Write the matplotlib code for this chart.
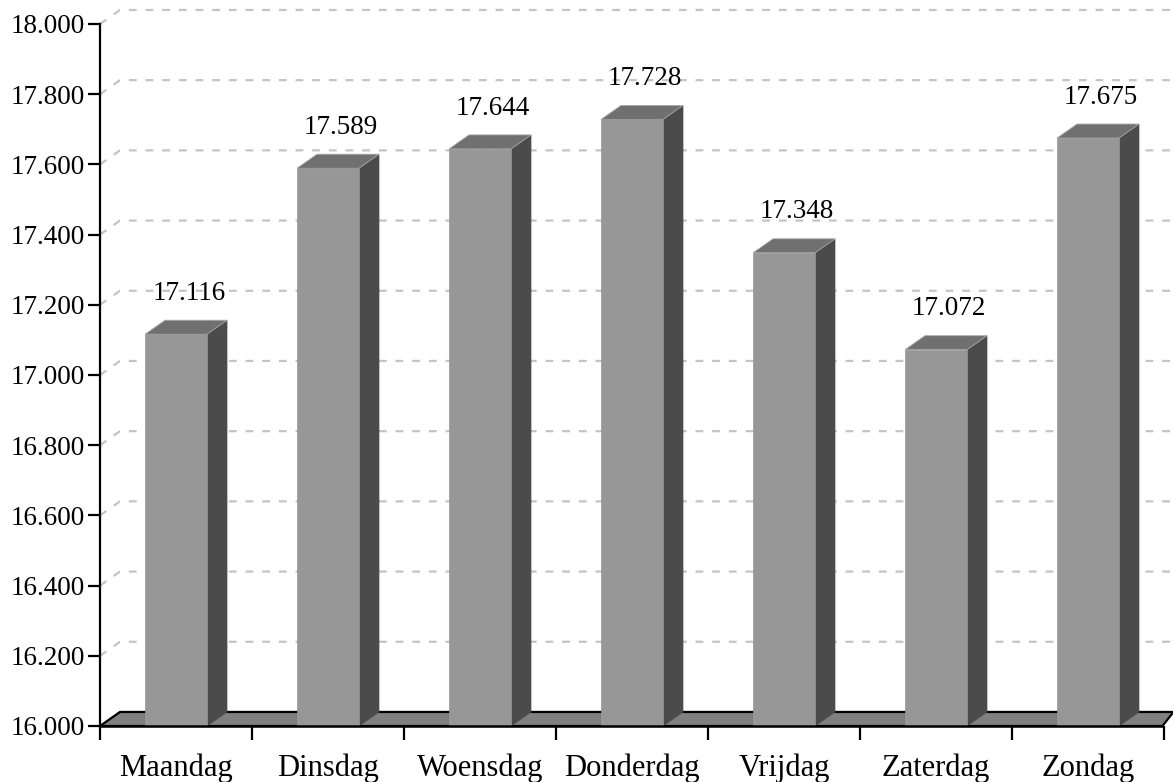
import matplotlib.pyplot as plt
import matplotlib.ticker as mticker
from matplotlib.patches import Polygon, Rectangle

# data
days = ['Maandag', 'Dinsdag', 'Woensdag', 'Donderdag', 'Vrijdag', 'Zaterdag', 'Zondag']
values = [17116, 17589, 17644, 17728, 17348, 17072, 17675]
yticks = list(range(16000, 18001, 200))

plt.rcParams['font.family'] = ['Liberation Serif', 'DejaVu Serif']

fig = plt.figure(figsize=(11.73, 7.82), dpi=100)
ax = fig.add_axes([100 / 1173, 56 / 782, 1064 / 1173, 702 / 782])
ax.set_xlim(0, len(days))
ax.set_ylim(16000, 18000)

# 3d depth offsets in data units (about 20px right, 14px up)
dx = 20 / 152
dy = 40
half = 31 / 152
n = len(days)

for s in ax.spines.values():
    s.set_visible(False)
ax.plot([0, 0], [16000, 18000], color='black', lw=1.6, clip_on=False, zorder=6)

# gridlines on the back wall
for t in yticks[1:]:
    ax.plot([0, dx, n + dx + 0.2], [t, t + dy, t + dy], color='#c4c4c4', lw=1.6,
            dashes=(3.5, 4), clip_on=False, zorder=1)

# floor
floor = Polygon([(0, 16000), (n - 0.01, 16000), (n - 0.01 + dx * 0.55, 16000 + dy), (dx, 16000 + dy)],
                closed=True, facecolor='#808080', edgecolor='black', lw=1.6,
                clip_on=False, zorder=2)
ax.add_patch(floor)

# bars
for i, v in enumerate(values):
    c = i + 0.5
    x0, x1 = c - half, c + half
    side = Polygon([(x1, 16000), (x1 + dx, 16000 + dy), (x1 + dx, v + dy), (x1, v)],
                   closed=True, facecolor='#4b4b4b', edgecolor='#4b4b4b', lw=0.5,
                   clip_on=False, zorder=3)
    top = Polygon([(x0, v), (x1, v), (x1 + dx, v + dy), (x0 + dx, v + dy)],
                  closed=True, facecolor='#707070', edgecolor='#a8a8a8', lw=0.6,
                  clip_on=False, zorder=3)
    front = Rectangle((x0, 16000), x1 - x0, v - 16000, facecolor='#979797',
                      edgecolor='#979797', lw=0.5, clip_on=False, zorder=4)
    ax.add_patch(side)
    ax.add_patch(top)
    ax.add_patch(front)
    label = f'{v / 1000:.3f}'
    ax.text(c + dx / 2 + 0.02, v + dy + 58, label, ha='center', va='baseline',
            fontsize=19.5, zorder=5)

ax.plot([0, n - 0.01], [16000, 16000], color='black', lw=1.8, clip_on=False, zorder=6)

ax.set_yticks(yticks)
ax.yaxis.set_major_formatter(mticker.FuncFormatter(lambda y, p: f'{y / 1000:.3f}'))
ax.tick_params(axis='y', length=9, width=1.6, labelsize=19.5, pad=2)

ax.set_xticks([i for i in range(n + 1)])
ax.set_xticks([i + 0.5 for i in range(n)], minor=True)
ax.set_xticklabels([])
ax.set_xticklabels(days, minor=True)
ax.tick_params(axis='x', which='major', length=10, width=1.6, direction='out')
ax.tick_params(axis='x', which='minor', length=0, labelsize=22, pad=20)

fig.savefig('out.png', dpi=100)
